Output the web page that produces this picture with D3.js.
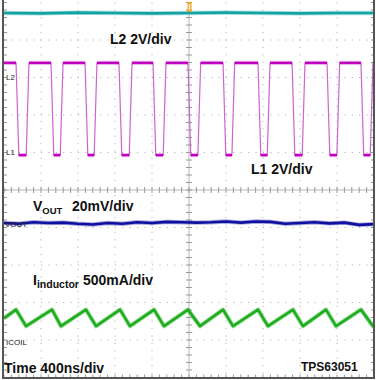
<!DOCTYPE html>
<html>
<head>
<meta charset="utf-8">
<script src="https://cdn.jsdelivr.net/npm/d3@7"></script>
<style>
  html, body { margin: 0; padding: 0; background: #fff; }
  svg { display: block; }
  .lbl { font-family: "Liberation Sans", Arial, sans-serif; font-weight: bold; fill: #111; }
  .ch { font-family: "Liberation Sans Narrow", "Liberation Sans", sans-serif; fill: #222; }
</style>
</head>
<body>
<div id="scope"></div>
<script>
// time base: 400 ns/div, 10 divisions; values are in divisions from screen centre
const TIME_SPAN = [0, 4000];
const DIVS = [-5, 5];

// L2 (cyan)
const l2T = [0, 400, 800, 1200, 1600, 2000, 2400, 2800, 3200, 3600, 4000];
const l2V = [4.72, 4.71, 4.73, 4.72, 4.71, 4.72, 4.73, 4.72, 4.71, 4.72, 4.72];

// L1 switch node (magenta), edge times in ns
const l1Falls = [130, 508, 876, 1243, 1611, 1989, 2368, 2746, 3114, 3492, 3859];
const l1Rises = [270, 638, 1005, 1384, 1751, 2126, 2494, 2876, 3254, 3629, 3989];
const l1High = 3.39;
const l1Low = 0.93;

// VOUT ripple (navy)
const voutT = d3.range(0, 4001, 160);
const voutV = [-0.88, -0.90, -0.86, -0.88, -0.87, -0.90, -0.92, -0.88, -0.90, -0.86, -0.88, -0.85, -0.86,
               -0.87, -0.86, -0.84, -0.87, -0.84, -0.85, -0.90, -0.88, -0.86, -0.89, -0.87, -0.93, -0.91];

// inductor current (green)
const iPeakT = [130, 519, 886, 1254, 1622, 1989, 2368, 2746, 3124, 3481, 3859];
const iTroughT = [238, 616, 995, 1362, 1730, 2119, 2476, 2854, 3232, 3589, 3989];
const iPeak = -3.19;
const iTrough = -3.63;
const iStart = -3.42;
const iEnd = -3.60;

const W = 376, H = 380;
const x = d3.scaleLinear().domain(TIME_SPAN).range([4, 374]);
const y = d3.scaleLinear().domain(DIVS).range([377.5, 2.5]);

const svg = d3.select("#scope").append("svg")
    .attr("width", W)
    .attr("height", H);

// grid
const grid = svg.append("g");
d3.range(1, 10).filter(i => i !== 5).forEach(i => {
    grid.append("line")
        .attr("x1", x(i * 400)).attr("x2", x(i * 400))
        .attr("y1", y(5)).attr("y2", y(-5))
        .attr("stroke", "#a8a8a8").attr("stroke-width", 1)
        .attr("stroke-dasharray", "1,6.4");
});
d3.range(-4, 5).filter(i => i !== 0).forEach(i => {
    grid.append("line")
        .attr("x1", x(0)).attr("x2", x(4000))
        .attr("y1", y(i)).attr("y2", y(i))
        .attr("stroke", "#a8a8a8").attr("stroke-width", 1)
        .attr("stroke-dasharray", "1,6.4");
});

// centre cross with minor ticks
grid.append("line")
    .attr("x1", x(0)).attr("x2", x(4000)).attr("y1", y(0)).attr("y2", y(0))
    .attr("stroke", "#b8b8b8");
grid.append("line")
    .attr("x1", x(2000)).attr("x2", x(2000)).attr("y1", y(5)).attr("y2", y(-5))
    .attr("stroke", "#b8b8b8");
d3.range(0, 4001, 80).forEach(t => {
    grid.append("line")
        .attr("x1", x(t)).attr("x2", x(t)).attr("y1", y(0) - 3).attr("y2", y(0) + 3)
        .attr("stroke", "#999");
    grid.append("line")
        .attr("x1", x(t)).attr("x2", x(t)).attr("y1", y(-5)).attr("y2", y(-5) - 3)
        .attr("stroke", "#999");
});
d3.range(-5, 5.01, 0.2).forEach(v => {
    grid.append("line")
        .attr("x1", x(2000) - 3).attr("x2", x(2000) + 3).attr("y1", y(v)).attr("y2", y(v))
        .attr("stroke", "#999");
    grid.append("line")
        .attr("x1", x(0)).attr("x2", x(0) + 3).attr("y1", y(v)).attr("y2", y(v))
        .attr("stroke", "#999");
    grid.append("line")
        .attr("x1", x(4000)).attr("x2", x(4000) - 3).attr("y1", y(v)).attr("y2", y(v))
        .attr("stroke", "#999");
});

const line = d3.line().x(d => x(d[0])).y(d => y(d[1]));

function trace(points, color, width) {
    svg.append("path").datum(points)
        .attr("d", line).attr("fill", "none")
        .attr("stroke", color).attr("stroke-opacity", 0.35)
        .attr("stroke-width", width + 1.8).attr("stroke-linejoin", "round");
    svg.append("path").datum(points)
        .attr("d", line).attr("fill", "none")
        .attr("stroke", color).attr("stroke-width", width)
        .attr("stroke-linejoin", "round");
}

// L2
trace(d3.zip(l2T, l2V), "#13a3a3", 2.6);

// L1 square wave: thin edges + thick flat levels
const EDGE = 30;
const l1Pts = [[0, l1High]];
l1Falls.forEach((f, i) => {
    l1Pts.push([f, l1High], [f + EDGE, l1Low], [l1Rises[i] - EDGE, l1Low], [l1Rises[i], l1High]);
});
l1Pts.push([4000, l1High]);
svg.append("path").datum(l1Pts)
    .attr("d", line).attr("fill", "none")
    .attr("stroke", "#cc66cc").attr("stroke-width", 1.2);
const highSegs = [[0, l1Falls[0]]];
l1Falls.slice(1).forEach((f, i) => highSegs.push([l1Rises[i], f]));
highSegs.push([l1Rises[l1Rises.length - 1], 4000]);
highSegs.forEach(s => trace([[s[0], l1High], [s[1], l1High]], "#c000c0", 2.2));
l1Falls.forEach((f, i) => trace([[f + EDGE, l1Low], [l1Rises[i] - EDGE, l1Low]], "#c000c0", 2.2));

// VOUT
trace(d3.zip(voutT, voutV), "#1010a0", 2.6);

// inductor current
const iPts = [[0, iStart]];
iPeakT.forEach((p, i) => iPts.push([p, iPeak], [iTroughT[i], iTrough]));
iPts.push([4000, iEnd]);
trace(iPts, "#1fae1f", 2.8);

// trigger marker
svg.append("rect").attr("x", x(2000) - 1.5).attr("y", 2).attr("width", 4).attr("height", 10)
    .attr("fill", "#f0a020");
svg.append("rect").attr("x", x(2000) - 0.3).attr("y", 4).attr("width", 1.5).attr("height", 6)
    .attr("fill", "#fff4d0");

// frame (left, right, bottom)
svg.append("path")
    .attr("d", `M${x(0) - 1},0 V${H - 2} H${x(4000)} V0`)
    .attr("fill", "none").attr("stroke", "#555").attr("stroke-width", 2);

// channel markers
const ch = [["L2", 6, 80], ["L1", 6, 155], ["VOUT", 5, 227], ["ICOIL", 6, 345]];
ch.forEach(c => svg.append("text").attr("class", "ch")
    .attr("x", c[1]).attr("y", c[2]).attr("font-size", 8).text(c[0]));

// scale labels
svg.append("text").attr("class", "lbl").attr("x", 110).attr("y", 44)
    .attr("font-size", 14).text("L2 2V/div");
svg.append("text").attr("class", "lbl").attr("x", 251).attr("y", 174)
    .attr("font-size", 14).text("L1 2V/div");

const vout = svg.append("text").attr("class", "lbl").attr("x", 33).attr("y", 211).attr("font-size", 14);
vout.append("tspan").text("V");
vout.append("tspan").attr("font-size", 9.5).attr("dy", 3).text("OUT");
vout.append("tspan").attr("x", 72).attr("dy", -3).text("20mV/div");

const il = svg.append("text").attr("class", "lbl").attr("x", 33).attr("y", 285).attr("font-size", 14);
il.append("tspan").text("I");
il.append("tspan").attr("font-size", 10.5).attr("dy", 3).text("inductor");
il.append("tspan").attr("x", 83).attr("dy", -3).text("500mA/div");

svg.append("text").attr("class", "lbl").attr("x", 4).attr("y", 373)
    .attr("font-size", 14).text("Time 400ns/div");
svg.append("text").attr("class", "lbl").attr("x", 301).attr("y", 371)
    .attr("font-size", 12).text("TPS63051");
</script>
</body>
</html>
